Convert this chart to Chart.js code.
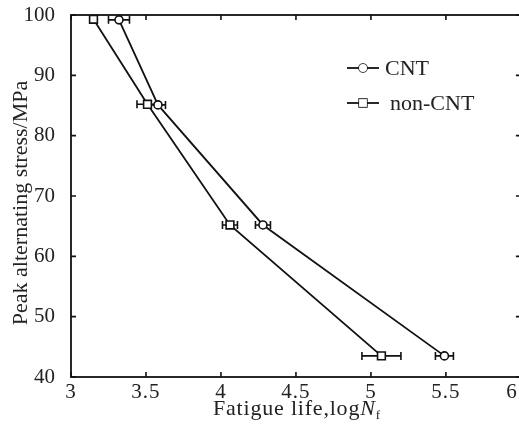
<!DOCTYPE html>
<html>
<head>
<meta charset="utf-8">
<script src="https://cdn.jsdelivr.net/npm/chart.js@4.4.1/dist/chart.umd.min.js"></script>
<style>
    html, body { margin: 0; padding: 0; background: #fff; overflow: hidden; }
    #wrap { width: 519px; height: 432px; overflow: hidden; position: relative; }
    #fatigueChart { position: absolute; left: 0; top: 0; }
</style>
</head>
<body>
<div id="wrap"><canvas id="fatigueChart" width="528" height="432"></canvas></div>
<script>
// values
const cntLife = [3.32, 3.58, 4.28, 5.49];
const cntStress = [99.2, 85.1, 65.2, 43.5];
const cntErr = [0.07, 0.05, 0.05, 0.06];

const nonCntLife = [3.15, 3.51, 4.06, 5.07];
const nonCntStress = [99.3, 85.2, 65.2, 43.5];
const nonCntErr = [0.02, 0.07, 0.05, 0.13];

const seriesNames = ['CNT', 'non-CNT'];
const xTicks = [3, 3.5, 4, 4.5, 5, 5.5, 6];
const yTicks = [40, 50, 60, 70, 80, 90, 100];

const ink = '#111';
const serif = '"Liberation Serif", "Times New Roman", serif';

function toPoints(xs, ys) {
    return xs.map((x, i) => ({ x: x, y: ys[i] }));
}

const errorBars = {
    id: 'errorBars',
    beforeDatasetsDraw(chart) {
        const ctx = chart.ctx;
        const xs = chart.scales.x, ys = chart.scales.y;
        const sets = [[cntLife, cntStress, cntErr], [nonCntLife, nonCntStress, nonCntErr]];
        ctx.save();
        ctx.strokeStyle = ink;
        ctx.lineWidth = 1.6;
        sets.forEach(function (s) {
            s[0].forEach(function (v, i) {
                const y = ys.getPixelForValue(s[1][i]);
                const x1 = xs.getPixelForValue(v - s[2][i]);
                const x2 = xs.getPixelForValue(v + s[2][i]);
                ctx.beginPath();
                ctx.moveTo(x1, y); ctx.lineTo(x2, y);
                ctx.moveTo(x1, y - 4); ctx.lineTo(x1, y + 4);
                ctx.moveTo(x2, y - 4); ctx.lineTo(x2, y + 4);
                ctx.stroke();
            });
        });
        ctx.restore();
    }
};

const frame = {
    id: 'frame',
    afterDraw(chart) {
        const ctx = chart.ctx;
        const a = chart.chartArea;
        const xs = chart.scales.x, ys = chart.scales.y;
        ctx.save();
        ctx.strokeStyle = ink;
        ctx.lineWidth = 1.8;
        ctx.strokeRect(a.left, a.top, a.right - a.left, a.bottom - a.top);

        // inward ticks on all four sides
        ctx.lineWidth = 1.6;
        ctx.beginPath();
        xTicks.forEach(function (v) {
            const x = xs.getPixelForValue(v);
            ctx.moveTo(x, a.bottom); ctx.lineTo(x, a.bottom - 5);
            ctx.moveTo(x, a.top); ctx.lineTo(x, a.top + 5);
        });
        yTicks.forEach(function (v) {
            const y = ys.getPixelForValue(v);
            ctx.moveTo(a.left, y); ctx.lineTo(a.left + 5, y);
            ctx.moveTo(a.right, y); ctx.lineTo(a.right - 5, y);
        });
        ctx.stroke();

        // x tick labels
        ctx.fillStyle = '#222';
        ctx.font = '21px ' + serif;
        ctx.textAlign = 'center';
        ctx.textBaseline = 'alphabetic';
        ctx.letterSpacing = '1px';
        xTicks.forEach(function (v) {
            const x = Math.min(xs.getPixelForValue(v), 512);
            ctx.fillText(String(v), x, 398);
        });

        // x title with italic N and subscript f
        ctx.textAlign = 'left';
        ctx.font = '22px ' + serif;
        ctx.letterSpacing = '0.8px';
        const base = 'Fatigue life,log';
        ctx.fillText(base, 213, 415);
        let tx = 213 + ctx.measureText(base).width;
        ctx.font = 'italic 22px ' + serif;
        ctx.fillText('N', tx, 415);
        tx += ctx.measureText('N').width;
        ctx.font = '13px ' + serif;
        ctx.fillText('f', tx, 419);

        // y title
        ctx.letterSpacing = '0px';
        ctx.font = '22px ' + serif;
        ctx.translate(27, 203);
        ctx.rotate(-Math.PI / 2);
        ctx.textAlign = 'center';
        ctx.fillText('Peak alternating stress/MPa', 0, 0);
        ctx.restore();

        // legend inside the plot
        ctx.save();
        const rows = [{ y: 68, tx: 385 }, { y: 103, tx: 390 }];
        chart.data.datasets.forEach(function (ds, i) {
            const r = rows[i];
            ctx.strokeStyle = ink;
            ctx.lineWidth = 1.8;
            ctx.beginPath();
            ctx.moveTo(347, r.y); ctx.lineTo(379, r.y);
            ctx.stroke();
            ctx.fillStyle = '#fff';
            ctx.lineWidth = 1.6;
            Chart.helpers.drawPoint(ctx, {
                pointStyle: ds.pointStyle, radius: ds.pointRadius, borderWidth: 1.6, rotation: 0
            }, 363, r.y);
            ctx.fill();
            ctx.fillStyle = '#222';
            ctx.font = '22px ' + serif;
            ctx.textBaseline = 'middle';
            ctx.fillText(ds.label, r.tx, r.y + 1);
        });
        ctx.restore();
    }
};

const ctx = document.getElementById('fatigueChart').getContext('2d');
const fatigueChart = new Chart(ctx, {
    type: 'scatter',
    data: {
        datasets: [{
            label: seriesNames[0],
            data: toPoints(cntLife, cntStress),
            showLine: true,
            borderColor: ink,
            borderWidth: 1.8,
            pointStyle: 'circle',
            pointRadius: 4,
            pointBorderWidth: 1.6,
            pointBackgroundColor: '#fff',
            pointBorderColor: ink
        }, {
            label: seriesNames[1],
            data: toPoints(nonCntLife, nonCntStress),
            showLine: true,
            borderColor: ink,
            borderWidth: 1.8,
            pointStyle: 'rect',
            pointRadius: 5.5,
            pointBorderWidth: 1.6,
            pointBackgroundColor: '#fff',
            pointBorderColor: ink
        }]
    },
    options: {
        responsive: false,
        animation: false,
        layout: { padding: { top: 15, right: 3, left: 0, bottom: 0 } },
        plugins: {
            legend: { display: false },
            tooltip: { enabled: false }
        },
        scales: {
            x: {
                type: 'linear',
                min: 3,
                max: 6,
                grid: { display: false },
                border: { display: false },
                ticks: { display: false, stepSize: 0.5 },
                afterFit: function (scale) {
                    scale.height = 55;
                    scale.paddingLeft = 0;
                    scale.paddingRight = 0;
                }
            },
            y: {
                type: 'linear',
                min: 40,
                max: 100,
                grid: { display: false },
                border: { display: false },
                ticks: {
                    stepSize: 10,
                    padding: 8,
                    color: '#222',
                    font: { family: serif, size: 21 }
                },
                afterFit: function (scale) {
                    scale.width = 71;
                    scale.paddingTop = 0;
                    scale.paddingBottom = 0;
                }
            }
        }
    },
    plugins: [errorBars, frame]
});
</script>
</body>
</html>
